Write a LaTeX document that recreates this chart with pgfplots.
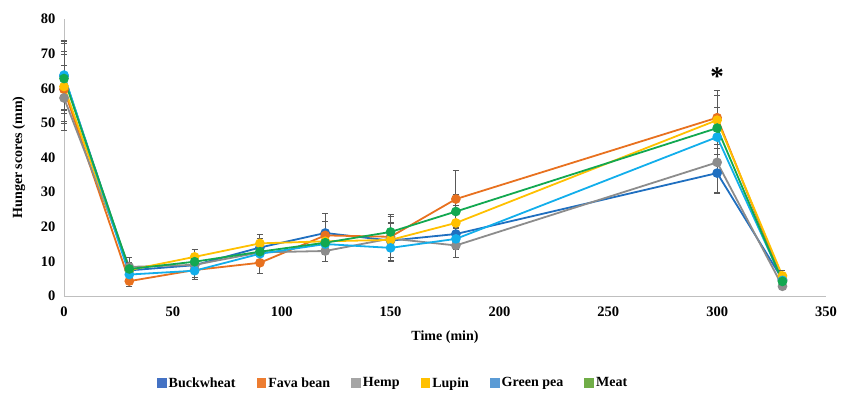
\documentclass[border=0pt]{standalone}
\usepackage{pgfplots}
\pgfplotsset{compat=1.18}
\usepackage{fontspec}
\setmainfont{Liberation Serif}

% line colours
\definecolor{cBuck}{HTML}{1F6FC0}
\definecolor{cFava}{HTML}{E8711F}
\definecolor{cHemp}{HTML}{8C8C8C}
\definecolor{cLupin}{HTML}{FFC000}
\definecolor{cPea}{HTML}{12AEEB}
\definecolor{cMeat}{HTML}{12A850}
% legend swatch colours
\definecolor{lBuck}{HTML}{4472C4}
\definecolor{lFava}{HTML}{ED7D31}
\definecolor{lHemp}{HTML}{A5A5A5}
\definecolor{lLupin}{HTML}{FFC000}
\definecolor{lPea}{HTML}{5B9BD5}
\definecolor{lMeat}{HTML}{70AD47}
\definecolor{errc}{HTML}{595959}

\begin{document}
\begin{tikzpicture}
\begin{axis}[
  scale only axis,
  width=762pt, height=277pt,
  xmin=0, xmax=350, ymin=0, ymax=80,
  xtick={0,50,...,350}, ytick={0,10,...,80},
  axis x line*=bottom, axis y line*=left,
  axis line style={draw=black!25, line width=0.8pt, -},
  major tick length=0pt,
  /pgf/number format/assume math mode=true,
  ticklabel style={font=\bfseries\fontsize{14.5}{16}\selectfont},
  xticklabel style={yshift=-7pt},
  yticklabel style={xshift=-5pt},
  xlabel={Time (min)},
  ylabel={Hunger scores (mm)},
  label style={font=\bfseries\fontsize{14}{16}\selectfont},
  xlabel style={yshift=-8pt},
  ylabel style={yshift=9pt},
  clip=false,
  every axis plot/.append style={line width=1.8pt, mark=*, mark size=3.9pt,
    error bars/y dir=both, error bars/y explicit,
    error bars/error bar style={draw=errc, line width=0.9pt},
    error bars/error mark options={draw=errc, rotate=90, mark size=3pt, line width=0.9pt}},
  legend style={at={(0.4318,-0.314)}, anchor=center, draw=none,
    font=\bfseries\fontsize{14}{16}\selectfont, column sep=0pt},
  legend columns=6,
  legend cell align=left,
  /tikz/every odd column/.append style={column sep=0pt},
  /tikz/every even column/.append style={column sep=19pt},
]
% Buckwheat
\addplot[color=cBuck, mark options={fill=cBuck, draw=cBuck}, forget plot]
  coordinates {(0,63.5) +- (0,10) (30,7.4) +- (0,2) (60,8.9) +- (0,2.5)
  (90,14.0) +- (0,2.5) (120,18.2) +- (0,5.5) (150,16.0) +- (0,5)
  (180,17.9) +- (0,3) (300,35.5) +- (0,5.5) (330,4.8) +- (0,1.5)};
% Fava bean
\addplot[color=cFava, mark options={fill=cFava, draw=cFava}, forget plot]
  coordinates {(0,59.7) +- (0,10) (30,4.3) +- (0,1.5) (60,7.5) +- (0,2)
  (90,9.6) +- (0,3) (120,17.5) +- (0,4) (150,17.1) +- (0,6)
  (180,28.0) +- (0,8.3) (300,51.5) +- (0,7.8) (330,4.5) +- (0,1.5)};
% Hemp
\addplot[color=cHemp, mark options={fill=cHemp, draw=cHemp}, forget plot]
  coordinates {(0,57.2) +- (0,9.5) (30,8.4) +- (0,2.8) (60,9.0) +- (0,2.5)
  (90,12.6) +- (0,3) (120,13.0) +- (0,3) (150,16.6) +- (0,6.5)
  (180,14.6) +- (0,3.5) (300,38.6) +- (0,8.9) (330,2.8) +- (0,1)};
% Lupin
\addplot[color=cLupin, mark options={fill=cLupin, draw=cLupin}, forget plot]
  coordinates {(0,60.5) +- (0,10) (30,7.5) +- (0,2) (60,11.3) +- (0,2.2)
  (90,15.2) +- (0,2.5) (120,15.8) +- (0,3) (150,16.2) +- (0,5)
  (180,21.1) +- (0,5) (300,50.8) +- (0,7) (330,5.8) +- (0,1.5)};
% Green pea
\addplot[color=cPea, mark options={fill=cPea, draw=cPea}, forget plot]
  coordinates {(0,63.8) +- (0,10) (30,6.2) +- (0,2) (60,7.3) +- (0,2.5)
  (90,12.2) +- (0,2.5) (120,15.0) +- (0,3) (150,13.9) +- (0,3.5)
  (180,16.5) +- (0,3) (300,45.9) +- (0,6.5) (330,4.5) +- (0,1.5)};
% Meat
\addplot[color=cMeat, mark options={fill=cMeat, draw=cMeat}, forget plot]
  coordinates {(0,62.8) +- (0,10) (30,7.8) +- (0,2) (60,9.9) +- (0,2)
  (90,12.8) +- (0,2.5) (120,15.4) +- (0,3) (150,18.5) +- (0,5)
  (180,24.4) +- (0,5) (300,48.5) +- (0,6) (330,4.2) +- (0,1.5)};

% legend with square swatches
\addlegendimage{legend image code/.code={\fill[lBuck] (0pt,-4pt) rectangle (8pt,4pt);}}
\addlegendentry{Buckwheat}
\addlegendimage{legend image code/.code={\fill[lFava] (0pt,-4pt) rectangle (8pt,4pt);}}
\addlegendentry{Fava bean}
\addlegendimage{legend image code/.code={\fill[lHemp] (0pt,-4pt) rectangle (8pt,4pt);}}
\addlegendentry{Hemp}
\addlegendimage{legend image code/.code={\fill[lLupin] (0pt,-4pt) rectangle (8pt,4pt);}}
\addlegendentry{Lupin}
\addlegendimage{legend image code/.code={\fill[lPea] (0pt,-4pt) rectangle (8pt,4pt);}}
\addlegendentry{Green pea}
\addlegendimage{legend image code/.code={\fill[lMeat] (0pt,-4pt) rectangle (8pt,4pt);}}
\addlegendentry{Meat}

\node[font=\bfseries\fontsize{27}{27}\selectfont] at (axis cs:300,63.5) {*};
\end{axis}
\path[use as bounding box] (-64pt,-97pt) rectangle (782pt,296pt);
\end{tikzpicture}
\end{document}
